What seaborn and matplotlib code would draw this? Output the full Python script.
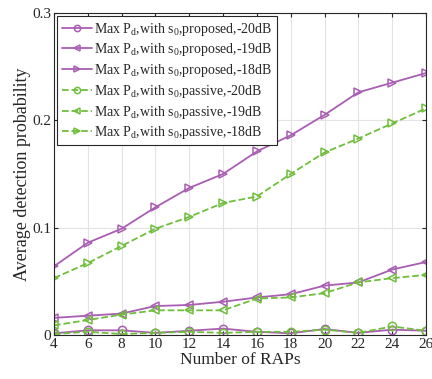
import numpy as np
import pandas as pd
import matplotlib
matplotlib.use("Agg")
import matplotlib.pyplot as plt
import seaborn as sns

# ======================================
# Data
# ======================================

raps = [4, 6, 8, 10, 12, 14, 16, 18, 20, 22, 24, 26]

prop_20 = [0.0016, 0.0044, 0.0044, 0.002, 0.004, 0.006, 0.003, 0.0016, 0.0056, 0.002, 0.005, 0.004]
prop_19 = [0.016, 0.018, 0.020, 0.027, 0.028, 0.031, 0.035, 0.038, 0.046, 0.049, 0.061, 0.068]
prop_18 = [0.064, 0.086, 0.099, 0.119, 0.137, 0.150, 0.171, 0.186, 0.205, 0.226, 0.235, 0.244]

pass_20 = [0.001, 0.003, 0.001, 0.002, 0.003, 0.002, 0.003, 0.003, 0.005, 0.002, 0.008, 0.004]
pass_19 = [0.009, 0.014, 0.019, 0.023, 0.023, 0.023, 0.034, 0.035, 0.039, 0.049, 0.053, 0.056]
pass_18 = [0.053, 0.067, 0.083, 0.099, 0.110, 0.123, 0.129, 0.150, 0.170, 0.183, 0.197, 0.211]

labels = [
    "Max P$_\\mathregular{d}$,with s$_\\mathregular{0}$,proposed,-20dB",
    "Max P$_\\mathregular{d}$,with s$_\\mathregular{0}$,proposed,-19dB",
    "Max P$_\\mathregular{d}$,with s$_\\mathregular{0}$,proposed,-18dB",
    "Max P$_\\mathregular{d}$,with s$_\\mathregular{0}$,passive,-20dB",
    "Max P$_\\mathregular{d}$,with s$_\\mathregular{0}$,passive,-19dB",
    "Max P$_\\mathregular{d}$,with s$_\\mathregular{0}$,passive,-18dB",
]

PURPLE = "#A95DB3"
GREEN = "#6FBE3C"

series = [
    (prop_20, PURPLE, "o", "-"),
    (prop_19, PURPLE, "<", "-"),
    (prop_18, PURPLE, ">", "-"),
    (pass_20, GREEN, "o", "--"),
    (pass_19, GREEN, "<", "--"),
    (pass_18, GREEN, ">", "--"),
]

# ======================================
# Style
# ======================================

sns.set_style("whitegrid")
plt.rcParams["font.family"] = ["Liberation Serif", "DejaVu Serif"]
plt.rcParams["mathtext.fontset"] = "custom"
plt.rcParams["mathtext.rm"] = "Liberation Serif"
plt.rcParams["mathtext.it"] = "Liberation Serif"
plt.rcParams["mathtext.default"] = "regular"

fig = plt.figure(figsize=(4.32, 3.79), dpi=100)
ax = fig.add_axes([0.125, 0.116, 0.861, 0.85])

for (vals, color, marker, ls), label in zip(series, labels):
    sns.lineplot(
        x=raps,
        y=vals,
        ax=ax,
        color=color,
        marker=marker,
        linestyle=ls,
        linewidth=1.3,
        markersize=6,
        markerfacecolor="none",
        markeredgecolor=color,
        markeredgewidth=1.1,
        label=label,
    )

ax.set_xlim(4, 26)
ax.set_ylim(0, 0.3)
ax.set_xticks(raps)
ax.set_yticks([0, 0.1, 0.2, 0.3])
ax.set_yticklabels(["0", "0.1", "0.2", "0.3"])

ax.grid(True, color="#E3E3E3", linewidth=0.8)
for side in ["left", "right", "top", "bottom"]:
    ax.spines[side].set_color("#262626")
    ax.spines[side].set_linewidth(0.8)

ax.tick_params(
    direction="in",
    length=3,
    labelsize=11,
    colors="#262626",
    top=True,
    right=True,
    bottom=True,
    left=True,
    pad=2,
)

ax.set_xlabel("Number of RAPs", fontsize=12.5, labelpad=1)
ax.set_ylabel("Average detection probability", fontsize=13, labelpad=1)

leg = ax.legend(
    loc="upper left",
    fontsize=10,
    frameon=True,
    fancybox=False,
    handlelength=2.2,
    markerscale=0.75,
    borderaxespad=0.25,
    labelspacing=0.27,
    handletextpad=0.15,
    borderpad=0.3,
)
leg.get_frame().set_edgecolor("#262626")
leg.get_frame().set_linewidth(0.8)
leg.get_frame().set_alpha(1)

fig.savefig("out.png", dpi=100)
